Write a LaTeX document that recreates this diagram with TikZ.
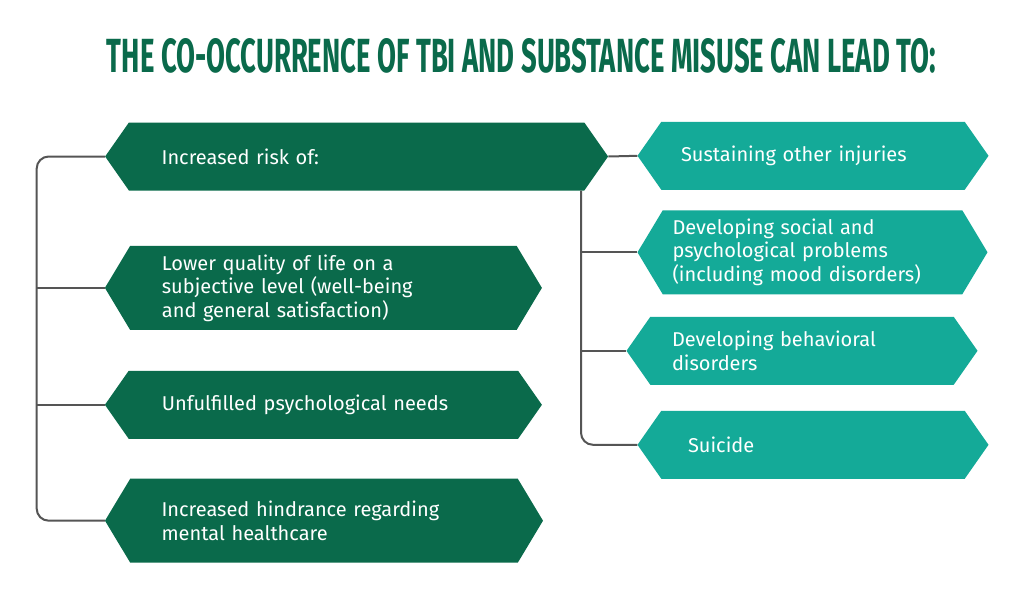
\documentclass[tikz,border=0pt]{standalone}
\usepackage{xcolor}
\usepackage{fontspec}
\setmainfont{Fira Sans}
\usepackage{tikz}
\usetikzlibrary{shapes.symbols}

\definecolor{darkgreen}{HTML}{0A6A4B}
\definecolor{tealbox}{HTML}{14AA98}
\definecolor{wiregray}{HTML}{555555}

\tikzset{
    hexbox/.style={signal, signal to=east and west, fill=darkgreen, text=white,
        inner sep=0pt, align=left, font=\fontsize{20}{23.5}\selectfont},
    lowbox/.style={hexbox, minimum height=68pt, signal pointer angle=110},
    tallbox/.style={hexbox, minimum height=84pt, signal pointer angle=118},
    wire/.style={draw=wiregray, line width=2pt},
}

\begin{document}
\begin{tikzpicture}[x=1pt,y=-1pt]
    \useasboundingbox[fill=white] (0,0) rectangle (1024,605);

    % title
        \node[text=darkgreen] (title) at (521.5,55.5)
            {\resizebox{829pt}{34pt}{\bfseries THE CO-OCCURRENCE OF TBI AND SUBSTANCE MISUSE CAN LEAD TO:}};

    % left column
        \node[lowbox, minimum width=503pt, text width=390pt] (risk) at (356.6,156.5) {Increased risk of:};
        \node[tallbox, minimum width=437pt, text width=323pt] (lower) at (323.4,287.9)
            {Lower quality of life on a\\subjective level (well-being\\and general satisfaction)};
        \node[lowbox, minimum width=437pt, text width=323pt] (unful) at (323.4,404.8) {Unfulfilled psychological needs};
        \node[tallbox, minimum width=438pt, text width=325pt] (hind) at (324,520.7)
            {Increased hindrance regarding\\mental healthcare};

    % right column
        \node[lowbox, fill=tealbox, minimum width=351pt, text width=264pt] (sust) at (813,155.8) {Sustaining other injuries};
        \node[tallbox, fill=tealbox, minimum width=350pt, text width=280pt] (devsoc) at (812.5,252.3)
            {Developing social and\\psychological problems\\(including mood disorders)};
        \node[lowbox, fill=tealbox, minimum width=351pt, text width=260pt] (devbeh) at (802,350.8)
            {Developing behavioral\\disorders};
        \node[lowbox, fill=tealbox, minimum width=351pt, text width=250pt] (suic) at (813,444.8) {Suicide};

    % brackets
        \coordinate (lspine) at (36.7,0);
        \coordinate (rspine) at (581,0);
        \draw[wire, rounded corners=12pt] (risk.west) -- (risk.west -| lspine) |- (hind.west);
        \draw[wire] (lower.west) -- (lower.west -| lspine);
        \draw[wire] (unful.west) -- (unful.west -| lspine);

        \draw[wire] (risk.east) -- (sust.west);
        \draw[wire, rounded corners=12pt] (risk.south -| rspine) |- (suic.west);
        \draw[wire] (devsoc.west) -- (devsoc.west -| rspine);
        \draw[wire] (devbeh.west) -- (devbeh.west -| rspine);
\end{tikzpicture}
\end{document}
